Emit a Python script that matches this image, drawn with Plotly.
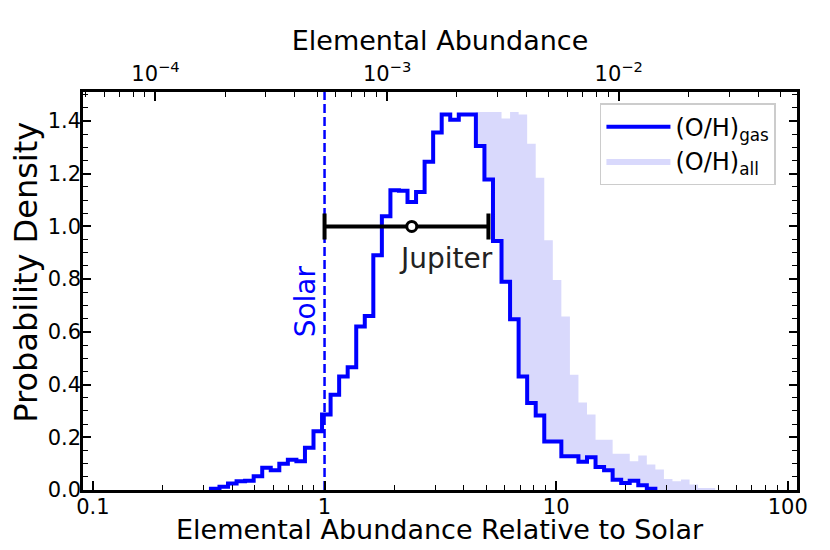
import numpy as np
import plotly.graph_objects as go

# ---------------- data ----------------
# histogram bins: uniform in log10, first edge and width in dex
BIN_FIRST_LOG_EDGE = -0.0108 - 14 * 0.0369
BIN_WIDTH_DEX = 0.0369

gas_density = [
    0.000, 0.005, 0.012, 0.025, 0.033, 0.035, 0.052, 0.084, 0.075, 0.100,
    0.115, 0.109, 0.160, 0.223, 0.286, 0.361, 0.431, 0.466, 0.620, 0.660,
    0.891, 1.039, 1.137, 1.135, 1.093, 1.131, 1.245, 1.356, 1.425, 1.405,
    1.425, 1.425, 1.305, 1.178, 0.945, 0.790, 0.648, 0.431, 0.330, 0.283,
    0.184, 0.184, 0.128, 0.128, 0.107, 0.124, 0.087, 0.075, 0.039, 0.027,
    0.035, 0.018, 0.005, 0.000, 0.000, 0.000, 0.000, 0.000, 0.000, 0.000,
    0.000,
]
all_density = [
    0.000, 0.000, 0.000, 0.000, 0.000, 0.000, 0.000, 0.004, 0.010, 0.020,
    0.030, 0.035, 0.050, 0.075, 0.080, 0.100, 0.112, 0.110, 0.150, 0.210,
    0.280, 0.350, 0.420, 0.470, 0.600, 0.680, 0.880, 1.020, 1.130, 1.150,
    1.200, 1.420, 1.434, 1.434, 1.434, 1.409, 1.434, 1.425, 1.314, 1.185,
    0.948, 0.797, 0.658, 0.437, 0.332, 0.286, 0.191, 0.191, 0.138, 0.138,
    0.109, 0.131, 0.097, 0.078, 0.042, 0.033, 0.040, 0.021, 0.008, 0.008,
    0.000,
]

solar_rel = 1.0            # solar reference (relative units)
solar_OH = 5.37e-4         # solar O/H used for the top axis
jupiter_value = 2.38
jupiter_low = 1.0
jupiter_high = 5.1
jupiter_y = 1.0

bottom_tickvals = [0.1, 1, 10, 100]
bottom_ticktext = ["0.1", "1", "10", "100"]
top_tickvals = [1e-4, 1e-3, 1e-2]
top_ticktext = ["10<sup>\u22124</sup>", "10<sup>\u22123</sup>", "10<sup>\u22122</sup>"]

x_range = [0.0906, 109.6]
y_range = [0, 1.51]

# ---------------- figure ----------------
FONT = "DejaVu Sans"
BLUE = "#0000ff"
LAVENDER = "#d9d9fc"

n = len(gas_density)
edges = 10 ** (BIN_FIRST_LOG_EDGE + BIN_WIDTH_DEX * np.arange(n + 1))
gas = np.array(gas_density)
alld = np.array(all_density)


def step_outline(vals):
    nz = np.nonzero(vals)[0]
    i0, i1 = nz[0], nz[-1]
    x = [edges[i0]] + list(edges[i0:i1 + 1]) + [edges[i1 + 1]]
    y = [0.0] + list(vals[i0:i1 + 1]) + [0.0]
    return x, y


gx, gy = step_outline(gas)
ax_, ay_ = step_outline(alld)

fig = go.Figure()

fig.add_trace(go.Scatter(
    x=ax_, y=ay_, mode="lines", line=dict(shape="hv", width=0, color=LAVENDER),
    fill="tozeroy", fillcolor=LAVENDER, name="(O/H)<sub>all</sub>",
    legendrank=2, hoverinfo="skip"))

fig.add_trace(go.Scatter(
    x=gx, y=gy, mode="lines", line=dict(shape="hv", width=0, color="white"),
    fill="tozeroy", fillcolor="white", showlegend=False, hoverinfo="skip"))

fig.add_trace(go.Scatter(
    x=[solar_rel, solar_rel], y=y_range, mode="lines",
    line=dict(color=BLUE, width=2.5, dash="9px,4px"),
    showlegend=False, hoverinfo="skip"))

fig.add_trace(go.Scatter(
    x=gx, y=gy, mode="lines", line=dict(shape="hv", width=4, color=BLUE),
    name="(O/H)<sub>gas</sub>", legendrank=1, hoverinfo="skip"))

fig.add_trace(go.Scatter(
    x=[jupiter_value], y=[jupiter_y], mode="markers",
    marker=dict(symbol="circle", size=10, color="white",
                line=dict(color="black", width=3)),
    error_x=dict(type="data", symmetric=False,
                 array=[jupiter_high - jupiter_value],
                 arrayminus=[jupiter_value - jupiter_low],
                 thickness=4, width=13, color="black"),
    showlegend=False, hoverinfo="skip"))

# invisible trace so the top axis is drawn
fig.add_trace(go.Scatter(
    x=[solar_OH], y=[0], xaxis="x2", mode="markers",
    marker=dict(opacity=0), showlegend=False, hoverinfo="skip"))

fig.add_annotation(x=np.log10(3.34), y=0.88, text="Jupiter", showarrow=False,
                   font=dict(family=FONT, size=28, color="#222222"),
                   xanchor="center", yanchor="middle")
fig.add_annotation(x=np.log10(0.83), y=0.715, text="Solar", showarrow=False,
                   textangle=-90,
                   font=dict(family=FONT, size=28, color=BLUE),
                   xanchor="center", yanchor="middle")
# axis titles (placed as annotations for exact positioning)
fig.add_annotation(xref="paper", yref="paper", x=-0.08, y=0.548,
                   text="Probability Density", showarrow=False, textangle=-90,
                   font=dict(family=FONT, size=32, color="black"),
                   xanchor="center", yanchor="middle")
fig.add_annotation(xref="paper", yref="paper", x=0.5, y=-0.1,
                   text="Elemental Abundance Relative to Solar", showarrow=False,
                   font=dict(family=FONT, size=27, color="black"),
                   xanchor="center", yanchor="middle")

tick_common = dict(ticks="inside", tickcolor="black", tickwidth=1.6,
                   showline=True, linecolor="black", linewidth=2.5,
                   showgrid=False, zeroline=False, automargin=False,
                   tickfont=dict(family=FONT, size=21, color="black"))

fig.update_layout(
    width=822, height=542,
    margin=dict(l=75, r=33, t=84, b=59.5, autoexpand=False),
    paper_bgcolor="white", plot_bgcolor="white",
    font=dict(family=FONT, color="black"),
    showlegend=True,
    legend=dict(x=0.724, y=0.972, xanchor="left", yanchor="top",
                bgcolor="white", bordercolor="#cccccc", borderwidth=1.5,
                font=dict(family=FONT, size=24, color="black"),
                itemwidth=64),
    xaxis=dict(type="log", range=[np.log10(x_range[0]), np.log10(x_range[1])],
               tickvals=bottom_tickvals, ticktext=bottom_ticktext, ticklen=9,
               ticklabelstandoff=-4,
               minor=dict(ticks="inside", ticklen=5, tickwidth=1.2,
                          tickcolor="black", dtick="D1", showgrid=False),
               **tick_common),
    xaxis2=dict(type="log", overlaying="x", side="top", anchor="y",
                range=[np.log10(x_range[0] * solar_OH), np.log10(x_range[1] * solar_OH)],
                tickvals=top_tickvals, ticktext=top_ticktext, ticklen=9,
                minor=dict(ticks="inside", ticklen=5, tickwidth=1.2,
                           tickcolor="black", dtick="D1", showgrid=False),
                title=dict(text="Elemental Abundance",
                           font=dict(family=FONT, size=27, color="black"),
                           standoff=0),
                **tick_common),
    yaxis=dict(range=y_range, dtick=0.2, tick0=0, tickformat=".1f", ticklen=8,
               ticklabelstandoff=-5,
               mirror="ticks",
               minor=dict(ticks="inside", ticklen=5, tickwidth=1.2,
                          tickcolor="black", dtick=0.05, showgrid=False),
               **tick_common),
)

fig.write_html("out.html")
